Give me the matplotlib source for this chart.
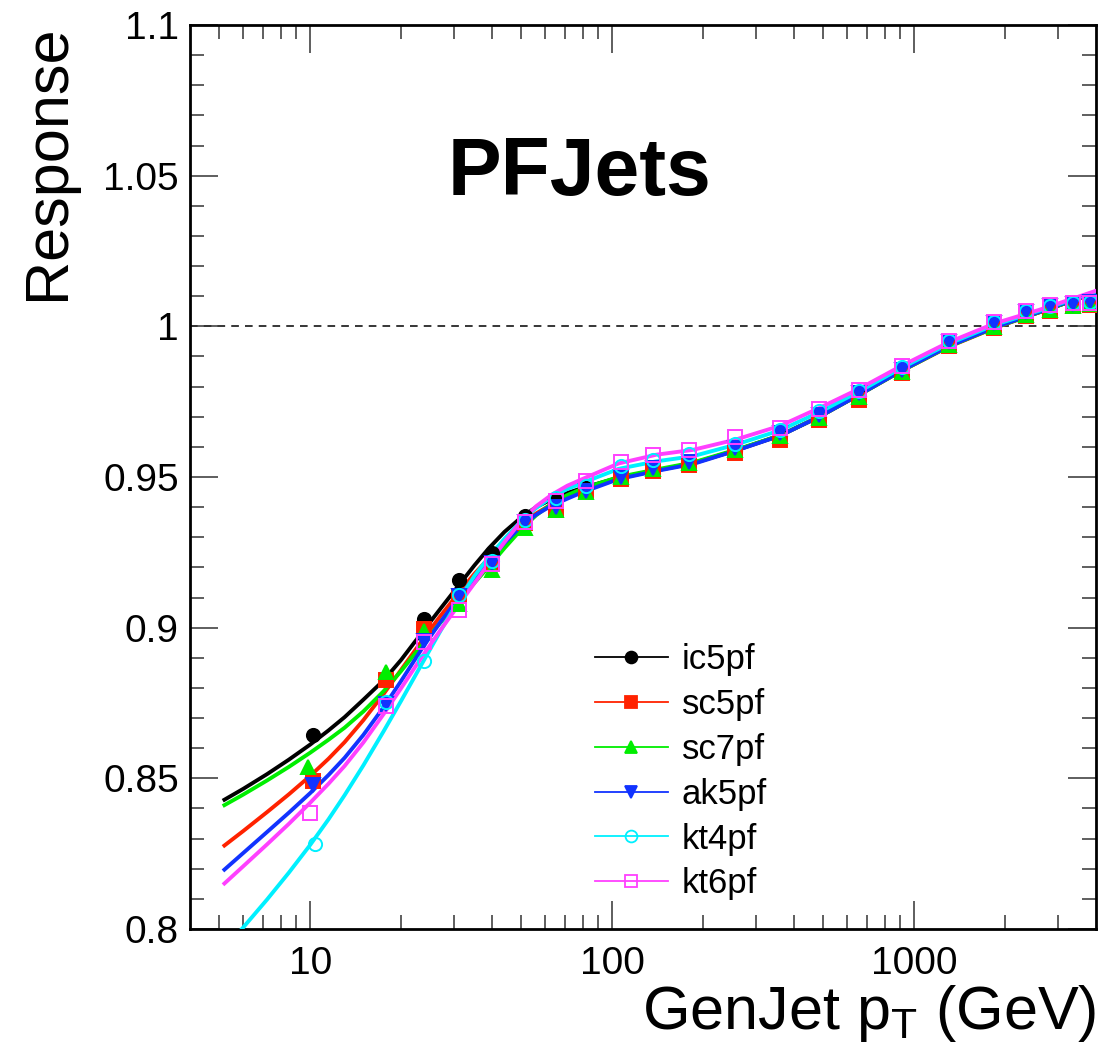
import matplotlib

matplotlib.use("Agg")

import matplotlib.pyplot as plt
from matplotlib.lines import Line2D
from matplotlib.ticker import FixedLocator, NullFormatter, FixedFormatter

plt.rcParams["font.family"] = ["Liberation Sans", "DejaVu Sans"]
plt.rcParams["mathtext.fontset"] = "custom"
plt.rcParams["mathtext.rm"] = "Liberation Sans"
plt.rcParams["mathtext.it"] = "Liberation Sans:italic"

# jet algorithms, ROOT-like colours and markers
NAMES = ["ic5pf", "sc5pf", "sc7pf", "ak5pf", "kt4pf", "kt6pf"]
COLORS = ["#000000", "#FF2200", "#00EE00", "#1133FF", "#00F0FF", "#FF40FF"]
MARKERS = ["o", "s", "^", "v", "o", "s"]
FILLED = [True, True, True, True, False, False]

# GenJet pT of the measured points (first bin differs slightly per algorithm)
PT = [10.2, 17.8, 23.8, 31.2, 40, 51.3, 65, 82, 107, 136, 180, 256, 360, 485,
      655, 910, 1300, 1840, 2350, 2820, 3350, 3820]
PT_FIRST = [10.2, 10.2, 9.87, 10.2, 10.4, 9.95]

RESP = [
    [0.8643, 0.8830, 0.9029, 0.9158, 0.9249, 0.9369, 0.9426, 0.9462, 0.9500, 0.9525, 0.9545,
     0.9585, 0.9635, 0.9700, 0.9770, 0.9855, 0.9945, 1.0008, 1.0045, 1.0065, 1.0075, 1.0083],
    [0.8491, 0.8826, 0.8997, 0.9106, 0.9211, 0.9346, 0.9389, 0.9454, 0.9495, 0.9520, 0.9540,
     0.9580, 0.9624, 0.9690, 0.9757, 0.9845, 0.9934, 0.9994, 1.0035, 1.0052, 1.0066, 1.0072],
    [0.8537, 0.8854, 0.8989, 0.9077, 0.9191, 0.9330, 0.9391, 0.9449, 0.9500, 0.9525, 0.9548,
     0.9588, 0.9635, 0.9695, 0.9765, 0.9848, 0.9938, 0.9998, 1.0038, 1.0055, 1.0068, 1.0075],
    [0.8477, 0.8746, 0.8957, 0.9106, 0.9215, 0.9351, 0.9401, 0.9454, 0.9500, 0.9530, 0.9550,
     0.9595, 0.9646, 0.9707, 0.9779, 0.9856, 0.9947, 1.0011, 1.0047, 1.0066, 1.0073, 1.0080],
    [0.8281, 0.8754, 0.8889, 0.9108, 0.9220, 0.9357, 0.9431, 0.9471, 0.9535, 0.9555, 0.9575,
     0.9610, 0.9655, 0.9718, 0.9785, 0.9865, 0.9952, 1.0013, 1.0050, 1.0068, 1.0078, 1.0082],
    [0.8386, 0.8739, 0.8951, 0.9060, 0.9211, 0.9351, 0.9420, 0.9486, 0.9549, 0.9574, 0.9591,
     0.9633, 0.9663, 0.9726, 0.9788, 0.9869, 0.9950, 1.0013, 1.0050, 1.0070, 1.0077, 1.0078],
]

PT_FIT = [5.2, 6, 7.2, 8.5, 10, 11.5, 13, 15, 17.5, 20, 23.5, 27, 31, 35, 39, 44, 50, 56, 63,
          71, 80, 105, 140, 185, 256, 360, 485, 655, 900, 1300, 1850, 2600, 4000]
FIT = [
    [0.8429, 0.8465, 0.8514, 0.8562, 0.8612, 0.8659, 0.8703, 0.8761, 0.8825, 0.8893, 0.8985,
     0.9063, 0.9140, 0.9207, 0.9263, 0.9318, 0.9366, 0.9400, 0.9426, 0.9447, 0.9464, 0.9498,
     0.9522, 0.9546, 0.9588, 0.9638, 0.9700, 0.9773, 0.9851, 0.9934, 0.9997, 1.0047, 1.0112],
    [0.8277, 0.8325, 0.8388, 0.8447, 0.8508, 0.8565, 0.8620, 0.8693, 0.8780, 0.8860, 0.8958,
     0.9039, 0.9115, 0.9179, 0.9230, 0.9289, 0.9342, 0.9379, 0.9409, 0.9432, 0.9455, 0.9495,
     0.9522, 0.9545, 0.9588, 0.9638, 0.9700, 0.9772, 0.9850, 0.9932, 0.9995, 1.0047, 1.0113],
    [0.8411, 0.8446, 0.8493, 0.8538, 0.8585, 0.8628, 0.8668, 0.8722, 0.8789, 0.8856, 0.8944,
     0.9017, 0.9088, 0.9149, 0.9202, 0.9264, 0.9326, 0.9373, 0.9411, 0.9440, 0.9462, 0.9500,
     0.9525, 0.9548, 0.9590, 0.9638, 0.9700, 0.9772, 0.9850, 0.9933, 0.9996, 1.0047, 1.0112],
    [0.8197, 0.8252, 0.8322, 0.8386, 0.8451, 0.8511, 0.8568, 0.8644, 0.8736, 0.8823, 0.8932,
     0.9019, 0.9099, 0.9165, 0.9221, 0.9281, 0.9337, 0.9375, 0.9405, 0.9428, 0.9450, 0.9493,
     0.9520, 0.9543, 0.9587, 0.9637, 0.9700, 0.9772, 0.9851, 0.9934, 0.9997, 1.0048, 1.0114],
    [0.7934, 0.8005, 0.8098, 0.8187, 0.8279, 0.8364, 0.8444, 0.8543, 0.8656, 0.8757, 0.8882,
     0.8989, 0.9091, 0.9172, 0.9234, 0.9295, 0.9354, 0.9397, 0.9433, 0.9460, 0.9481, 0.9527,
     0.9552, 0.9569, 0.9607, 0.9655, 0.9715, 0.9783, 0.9860, 0.9942, 1.0005, 1.0052, 1.0116],
    [0.8151, 0.8208, 0.8281, 0.8349, 0.8419, 0.8482, 0.8541, 0.8619, 0.8713, 0.8799, 0.8905,
     0.8992, 0.9075, 0.9148, 0.9213, 0.9284, 0.9354, 0.9403, 0.9441, 0.9471, 0.9494, 0.9545,
     0.9574, 0.9590, 0.9624, 0.9670, 0.9729, 0.9792, 0.9867, 0.9947, 1.0010, 1.0055, 1.0118],
]

X_TICKS = [10, 100, 1000]
X_MINOR = [5, 6, 7, 8, 9, 20, 30, 40, 50, 60, 70, 80, 90, 200, 300, 400, 500, 600, 700,
           800, 900, 2000, 3000]


def main():
    fig = plt.figure(figsize=(11.02, 10.62), dpi=100)
    ax = fig.add_axes([190 / 1102, 133 / 1062, 906 / 1102, 904 / 1062])

    ax.set_xscale("log")
    ax.set_xlim(4, 4000)
    ax.set_ylim(0.8, 1.1)

    ax.axhline(1.0, color="black", lw=1.1, ls=(0, (5, 4)), zorder=1)

    handles = []
    for i, name in enumerate(NAMES):
        c = COLORS[i]
        ax.plot(PT_FIT, FIT[i], color=c, lw=2.8, zorder=2 + i, solid_joinstyle="round")
        xs = [PT_FIRST[i]] + PT[1:]
        face = c if FILLED[i] else "none"
        ms = 10.5 if MARKERS[i] in "^v" else 9.5
        ax.plot(xs, RESP[i], ls="none", marker=MARKERS[i], ms=ms, mfc=face, mec=c,
                mew=1.4, zorder=10 + i)
        handles.append(Line2D([], [], color=c, lw=1.3, marker=MARKERS[i], ms=8.5,
                              mfc=face, mec=c, mew=1.3))

    ax.legend(handles, NAMES, loc="upper left", bbox_to_anchor=(0.447, 0.316),
              frameon=False, fontsize=25, handlelength=2.1, handletextpad=0.4,
              labelspacing=0.34, borderpad=0, borderaxespad=0)

    # ROOT-style frame and ticks on all sides
    for sp in ax.spines.values():
        sp.set_linewidth(2.0)
    ax.xaxis.set_major_locator(FixedLocator(X_TICKS))
    ax.xaxis.set_major_formatter(FixedFormatter([str(t) for t in X_TICKS]))
    ax.xaxis.set_minor_locator(FixedLocator(X_MINOR))
    ax.xaxis.set_minor_formatter(NullFormatter())
    ax.set_yticks([0.8, 0.85, 0.9, 0.95, 1.0, 1.05, 1.1])
    ax.set_yticklabels(["0.8", "0.85", "0.9", "0.95", "1", "1.05", "1.1"])
    ax.yaxis.set_minor_locator(FixedLocator([0.8 + 0.01 * k for k in range(31)]))
    ax.tick_params(which="both", direction="in", top=True, right=True, width=1.1,
                   labelsize=28, color="#333333")
    ax.tick_params(which="major", length=20)
    ax.tick_params(which="minor", length=10)
    ax.tick_params(axis="x", pad=12)
    ax.tick_params(axis="y", pad=8)

    ax.set_ylabel("Response", fontsize=44, loc="top")
    ax.yaxis.set_label_coords(-0.125, 1.0)
    ax.set_xlabel(r"GenJet p$_{\mathrm{T}}$ (GeV)", fontsize=44, loc="right")
    ax.xaxis.set_label_coords(1.0, -0.06)

    ax.text(0.43, 0.835, "PFJets", transform=ax.transAxes, ha="center", va="center",
            fontsize=58, fontweight="bold")

    fig.savefig("out.png", dpi=100, facecolor="white")
    plt.close(fig)


if __name__ == "__main__":
    main()
